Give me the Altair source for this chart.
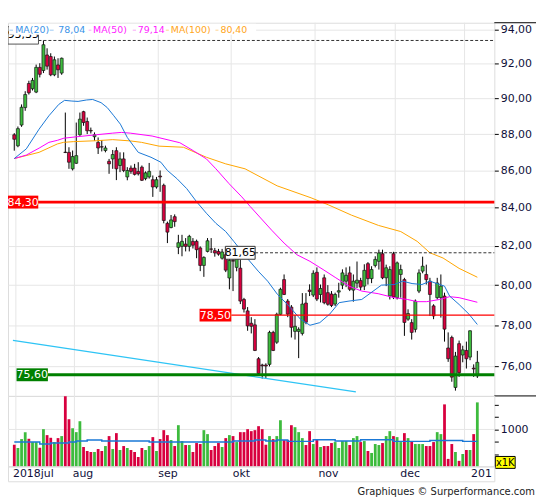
import altair as alt
import pandas as pd

# ---------------- data ----------------
opens = [87.96, 87.35, 88.50, 89.48, 90.85, 90.55, 90.36, 91.78, 91.60, 92.50,
         92.41, 91.35, 91.92, 91.45, 87.00, 86.99, 86.09, 86.39, 87.96, 89.25,
         88.70, 88.20, 87.85, 87.54, 87.30, 87.09, 86.50, 86.63, 87.08, 86.27,
         86.63, 85.65, 86.13, 86.13, 85.95, 86.18, 85.56, 85.65, 85.50, 85.11,
         85.70, 85.20, 83.18, 82.96, 83.53, 81.93, 81.98, 82.10, 81.98, 82.24,
         82.24, 81.90, 81.00, 81.72, 81.85, 81.76, 81.72, 81.37, 81.55, 80.36,
         81.25, 80.90, 80.86, 79.28, 78.71, 78.10, 78.02, 76.37, 76.07, 76.07,
         76.10, 77.65, 77.17, 78.54, 80.28, 79.20, 78.90, 77.70, 77.70, 77.60,
         79.10, 79.75, 79.50, 80.65, 79.53, 80.37, 79.62, 79.55, 79.05, 79.65,
         80.00, 80.20, 80.62, 79.75, 80.10, 80.23, 79.95, 81.09, 80.33, 81.00,
         81.21, 81.60, 80.37, 79.45, 81.60, 79.37, 80.54, 80.28, 78.30, 78.13,
         77.80, 79.70, 80.71, 80.54, 80.20, 78.96, 79.37, 79.37, 79.45, 76.89,
         77.40, 75.00, 77.10, 76.55, 76.77, 76.45, 75.92, 75.55]
highs = [88.05, 88.42, 89.66, 90.41, 91.01, 91.17, 91.94, 92.02, 93.35, 92.89,
         92.60, 92.41, 92.31, 92.35, 89.20, 87.27, 87.09, 88.64, 89.20, 89.30,
         88.92, 88.36, 88.09, 87.81, 87.67, 87.36, 86.63, 87.12, 87.27, 86.99,
         86.99, 86.18, 86.27, 86.36, 86.45, 86.27, 85.95, 86.41, 85.73, 85.65,
         86.00, 85.29, 83.27, 83.62, 83.65, 82.58, 82.58, 82.41, 82.58, 82.41,
         82.33, 81.98, 81.47, 82.41, 82.41, 81.90, 81.85, 81.85, 81.60, 81.38,
         81.47, 81.65, 81.30, 79.36, 78.90, 78.40, 78.30, 76.45, 76.13, 76.15,
         77.73, 77.73, 78.62, 79.87, 80.54, 79.30, 79.00, 78.50, 77.90, 79.60,
         79.60, 80.04, 80.75, 80.90, 80.03, 80.54, 80.00, 79.70, 79.62, 80.12,
         80.80, 80.90, 80.95, 80.54, 81.20, 80.37, 81.06, 81.17, 80.96, 81.47,
         81.81, 81.81, 81.04, 80.96, 81.70, 81.20, 81.04, 80.37, 78.79, 78.30,
         79.28, 80.80, 81.45, 81.04, 80.37, 79.04, 80.37, 80.54, 79.62, 77.65,
         77.49, 76.70, 77.25, 77.00, 77.20, 77.75, 76.10, 76.75]
lows = [87.08, 87.27, 88.40, 89.30, 90.22, 90.45, 90.30, 91.20, 91.45, 91.65,
        91.27, 91.27, 91.17, 91.35, 86.95, 86.09, 86.00, 86.36, 87.90, 88.46,
        88.00, 88.03, 87.63, 86.90, 87.04, 86.99, 85.82, 86.09, 85.48, 85.91,
        85.91, 85.47, 85.82, 85.73, 85.73, 85.43, 85.47, 85.56, 84.58, 85.02,
        84.85, 83.18, 82.15, 82.92, 83.00, 81.58, 81.47, 81.72, 81.72, 81.87,
        81.37, 80.71, 80.42, 81.67, 81.64, 81.45, 81.50, 81.30, 80.66, 79.79,
        79.70, 80.70, 79.05, 78.63, 77.73, 77.60, 76.74, 75.55, 75.42, 75.42,
        76.00, 76.74, 77.09, 78.50, 79.50, 78.40, 77.40, 77.30, 76.40, 77.50,
        78.05, 79.45, 79.40, 79.20, 79.13, 79.04, 78.97, 78.90, 78.95, 79.37,
        79.80, 79.90, 79.70, 79.17, 79.85, 79.75, 79.75, 80.03, 80.10, 80.90,
        80.79, 80.30, 79.95, 79.28, 79.30, 79.28, 79.37, 77.48, 78.22, 77.30,
        77.65, 79.60, 80.60, 80.03, 78.46, 78.30, 79.28, 78.38, 77.20, 76.22,
        75.27, 74.85, 75.50, 76.20, 75.90, 76.30, 75.50, 75.45]
closes = [87.71, 88.30, 89.50, 90.22, 90.32, 91.03, 91.78, 91.38, 93.10, 91.85,
          91.35, 92.22, 91.64, 92.31, 86.98, 86.45, 86.76, 86.81, 88.83, 88.64,
          88.18, 88.17, 87.96, 87.23, 87.28, 87.23, 86.36, 86.87, 86.09, 86.63,
          86.00, 86.00, 85.95, 85.79, 85.82, 85.47, 85.87, 85.95, 85.11, 85.50,
          85.65, 83.33, 82.72, 83.36, 83.27, 82.17, 82.24, 81.98, 82.50, 82.04,
          81.81, 81.00, 81.41, 82.27, 81.83, 81.64, 81.58, 81.69, 80.76, 81.26,
          81.22, 81.40, 79.20, 78.80, 77.97, 77.95, 76.77, 75.66, 76.03, 76.02,
          77.65, 76.77, 78.54, 79.79, 79.53, 78.55, 77.90, 77.95, 77.80, 79.05,
          78.15, 79.68, 80.60, 79.30, 79.83, 79.12, 79.04, 78.98, 79.53, 79.72,
          80.62, 80.50, 79.79, 80.20, 80.25, 79.90, 80.75, 80.33, 80.79, 81.31,
          81.64, 80.37, 80.88, 80.79, 79.40, 81.13, 80.79, 78.14, 78.58, 77.65,
          79.20, 80.62, 80.96, 80.28, 79.53, 78.46, 80.11, 79.95, 77.81, 76.37,
          75.49, 76.50, 75.70, 76.80, 76.37, 77.73, 75.88, 76.20]
volumes = [426, 355, 584, 861, 594, 494, 494, 360, 1017, 729,
           628, 494, 617, 690, 6400, 1770, 1075, 861, 1585, 375,
           300, 284, 284, 335, 300, 396, 690, 335, 815, 317,
           396, 355, 317, 284, 215, 355, 317, 396, 652, 300,
           584, 962, 729, 553, 396, 1270, 523, 419, 419, 284,
           468, 443, 962, 771, 317, 396, 468, 375, 617, 729,
           690, 494, 861, 861, 1017, 910, 962, 1201, 1017, 426,
           690, 584, 690, 1675, 553, 553, 1269, 1136, 861, 617,
           419, 910, 443, 553, 375, 396, 396, 468, 494, 355,
           523, 523, 419, 617, 690, 494, 523, 300, 269, 443,
           419, 468, 690, 910, 690, 652, 494, 815, 617, 523,
           443, 443, 443, 396, 396, 494, 861, 771, 4062, 193,
           443, 284, 173, 254, 317, 317, 771, 4540]

ma20_days = [0, 3.3, 6.8, 9.5, 12.2, 13.8, 15.8, 17.5, 19.8, 21.5, 23.8, 25.5, 27.3,
             29.1, 31.0, 34.0, 37.5, 40.2, 42.0, 44.6, 47.3, 50.0, 52.7, 55.3, 58.0,
             60.2, 64.2, 66.9, 69.5, 72.2, 75.3, 78.5, 81.1, 83.8, 86.5, 89.1, 91.8,
             95.3, 100.7, 104.2, 106.5, 109.1, 111.8, 114.0, 116.7, 118.0, 119.4,
             122.0, 124.7, 127.0]
ma20_vals = [86.65, 87.18, 88.27, 89.02, 89.66, 89.89, 89.85, 89.83, 89.91, 89.94, 89.76,
             89.48, 89.02, 88.55, 87.81, 86.99, 86.72, 86.45, 86.00, 85.56, 85.02, 84.32,
             83.71, 83.18, 82.75, 82.24, 81.30, 80.71, 80.20, 79.53, 78.96, 78.30, 78.00,
             78.13, 78.55, 79.12, 79.20, 79.28, 80.00, 80.03, 80.20, 80.08, 80.03, 80.20,
             80.03, 79.95, 79.45, 79.03, 78.55, 78.04]
ma50_days = [0, 3.3, 6.8, 9.5, 11.8, 13.6, 17.2, 22.5, 27.0, 29.4, 31.8, 37.8, 45.4,
             49.1, 52.7, 55.3, 58.9, 62.4, 64.7, 70.6, 74.0, 77.5, 81.1, 84.7, 88.2,
             91.8, 95.3, 99.8, 104.2, 107.8, 110.5, 113.1, 116.7, 119.4, 122.0, 127.0]
ma50_vals = [86.65, 86.84, 87.22, 87.54, 87.65, 87.77, 87.85, 87.96, 88.05, 88.09, 88.05,
             87.89, 87.52, 87.08, 86.63, 86.09, 85.29, 84.58, 84.07, 82.82, 82.15, 81.55,
             81.21, 80.79, 80.37, 79.95, 79.70, 79.57, 79.37, 79.28, 79.17, 79.17, 79.28,
             79.42, 79.37, 79.14]
ma100_days = [0, 6.8, 11.8, 13.5, 16.3, 22.5, 27.0, 31.8, 34.9, 39.7, 46.4, 52.7, 58.0,
              63.3, 72.1, 81.4, 86.1, 92.5, 99.9, 106.0, 110.5, 114.0, 117.6, 122.0, 127.0]
ma100_vals = [86.65, 86.99, 87.45, 87.54, 87.58, 87.63, 87.69, 87.62, 87.54, 87.33, 87.27,
              86.72, 86.36, 86.09, 85.17, 84.53, 84.16, 83.61, 83.07, 82.75, 82.24, 81.65,
              81.38, 80.85, 80.40]
ma_last = ["78,04", "79,14", "80,40"]

vol_ma_days = [0, 7, 10, 15, 17, 20, 24, 37, 60, 66, 69, 72, 75, 82, 88, 95, 104, 114, 123, 127]
vol_ma_vals = [494, 443, 468, 494, 523, 553, 523, 494, 523, 553, 523, 553, 514, 562, 523,
               562, 514, 543, 514, 514]

trend_days = [-0.36, 93.7]
trend_vals = [77.26, 74.79]

month_days = [0.44, 16.5, 39.5, 59.5, 82.5, 104.5, 123.5]
month_labels = ["2018jul", "aug", "sep", "okt", "nov", "dec", "201"]
price_ticks = [76, 78, 80, 82, 84, 86, 88, 90, 92, 94]
vol_ticks = [250, 500, 1000, 2000, 4000]
vol_floor = 127

level_major_red = [84.30]
level_minor_red = [78.50]
level_support = [75.60]
level_top = [93.35]
level_recent = [81.65]

# ---------------- styling ----------------
FONT = "DejaVu Sans"
GREEN = "#3dbb3d"
RED = "#d8003f"
AXIS_TXT = "#10103a"
GRID = "#e6e6e6"
W, H_MAIN, H_VOL, H_LBL = 490, 376, 71, 15

xscale = alt.Scale(domain=[-0.36, 130.3], nice=False, zero=False)
yscale = alt.Scale(type="log", domain=[74.6, 94.4], nice=False, zero=False)
vscale = alt.Scale(type="log", domain=[vol_floor, 6515], nice=False, zero=False)

y_axis = alt.Axis(orient="right", values=price_ticks,
                  labelExpr="replace(format(datum.value, '.2f'), '.', ',')",
                  grid=True, gridColor=GRID, tickSize=4, tickColor="#000000",
                  domain=False, labelFont=FONT, labelFontSize=11, labelColor=AXIS_TXT,
                  labelPadding=2, title=None)
v_axis = alt.Axis(orient="right", values=vol_ticks,
                  labelExpr="datum.value == 1000 ? '1000' : ''",
                  grid=False, tickSize=4, tickColor="#000000", domain=False,
                  labelFont=FONT, labelFontSize=11, labelColor=AXIS_TXT,
                  labelPadding=2, title=None)

df = pd.DataFrame({"i": list(range(len(opens))), "open": opens, "high": highs,
                   "low": lows, "close": closes, "vol": volumes})
df["dir"] = ["up" if c >= o else "down" for o, c in zip(opens, closes)]
df["base"] = vol_floor
dir_color = alt.Color("dir:N", scale=alt.Scale(domain=["up", "down"], range=[GREEN, RED]),
                      legend=None)

X = alt.X("i:Q", scale=xscale, axis=None)
one = pd.DataFrame({"k": [0]})


def xq(field):
    return alt.X(field, scale=xscale, axis=None)


def yq(field):
    return alt.Y(field, scale=yscale, axis=y_axis)


def box(x0, x1, y0, y1, fill, label, tcolor, stroke=None, ty=None, fs=11):
    d = pd.DataFrame({"t": [label]})
    kw = dict(fill=fill)
    if stroke:
        kw.update(stroke=stroke, strokeWidth=1)
    r = alt.Chart(d).mark_rect(**kw).encode(
        x=alt.value(x0), x2=alt.value(x1), y=alt.value(y0), y2=alt.value(y1))
    t = alt.Chart(d).mark_text(font=FONT, fontSize=fs, color=tcolor, align="center",
                               baseline="middle").encode(
        x=alt.value((x0 + x1) / 2),
        y=alt.value(ty if ty is not None else (y0 + y1) / 2 + 0.5), text="t:N")
    return [r, t]


# ---------------- main price panel ----------------
vgrid = alt.Chart(pd.DataFrame({"g": month_days})).mark_rule(
    color=GRID, strokeWidth=1).encode(x=xq("g:Q"))

wicks = alt.Chart(df).mark_rule(color="#000000", strokeWidth=1).encode(
    x=X, y=yq("low:Q"), y2="high:Q")
bodies = alt.Chart(df).mark_bar(size=3, stroke="#151515", strokeWidth=0.7).encode(
    x=X, y=yq("open:Q"), y2="close:Q", color=dir_color)


def line(days, vals, color, width=1):
    return alt.Chart(pd.DataFrame({"d": days, "v": vals})).mark_line(
        color=color, strokeWidth=width).encode(x=xq("d:Q"), y=yq("v:Q"))


trend = line(trend_days, trend_vals, "#2ec4f5", 1.4)
ma100 = line(ma100_days, ma100_vals, "#ffa500")
ma50 = line(ma50_days, ma50_vals, "#ff00ff")
ma20 = line(ma20_days, ma20_vals, "#1a78d6")

lv_major = alt.Chart(pd.DataFrame({"p": level_major_red})).mark_rule(
    color="#ff0000", strokeWidth=3).encode(y=yq("p:Q"))
lv_minor = alt.Chart(pd.DataFrame({"p": level_minor_red})).mark_rule(
    color="#ff0000", strokeWidth=1.2).encode(y=yq("p:Q"), x=alt.value(225), x2=alt.value(W))
lv_support = alt.Chart(pd.DataFrame({"p": level_support})).mark_rule(
    color="#008000", strokeWidth=3).encode(y=yq("p:Q"), x=alt.value(40), x2=alt.value(W))
lv_top = alt.Chart(pd.DataFrame({"p": level_top})).mark_rule(
    color="#333333", strokeWidth=1, strokeDash=[3, 2]).encode(
    y=yq("p:Q"), x=alt.value(30.7), x2=alt.value(W))
lv_recent = alt.Chart(pd.DataFrame({"p": level_recent})).mark_rule(
    color="#333333", strokeWidth=1, strokeDash=[3, 2]).encode(
    y=yq("p:Q"), x=alt.value(249), x2=alt.value(W))

boxes = []
boxes += box(0, 30.7, 4, 21.5, "#ffffff", "93,35", "#000000", stroke="#555555", ty=12)
boxes += box(0, 30.5, 174.2, 187.2, "#ff0000", "84,30", "#ffffff")
boxes += box(193, 225, 288.1, 301.1, "#ff0000", "78,50", "#ffffff")
boxes += box(8.6, 40.2, 348.2, 361.2, "#008000", "75,60", "#ffffff")
boxes += box(219, 249, 225.3, 238.3, "#ffffff", "81,65", "#000000", stroke="#333333")

band = alt.Chart(one).mark_rect(fill="#ffffff").encode(
    x=alt.value(1), x2=alt.value(250), y=alt.value(1), y2=alt.value(12))

legend_items = [(7.3, "MA(20)", "#3a93e8"), (50.7, ma_last[0], "#3a93e8"),
                (85.7, "MA(50)", "#ff22ff"), (130.7, ma_last[1], "#ff22ff"),
                (164, "MA(100)", "#ffa520"), (214, ma_last[2], "#ffa520")]
legend_layers = []
for lx, txt, col in legend_items:
    legend_layers.append(
        alt.Chart(pd.DataFrame({"t": [txt]})).mark_text(
            font=FONT, fontSize=9.5, color=col, align="left", baseline="middle").encode(
            x=alt.value(lx), y=alt.value(7), text="t:N"))
for a, b, col in [(1.5, 5, "#9ccaf5"), (42, 46, "#9ccaf5"), (81.3, 84, "#f7a6f7"),
                  (125.7, 129, "#f7a6f7"), (159, 162, "#ffd390"), (209, 212, "#ffd390")]:
    legend_layers.append(alt.Chart(one).mark_rule(color=col, strokeWidth=1).encode(
        x=alt.value(a), x2=alt.value(b), y=alt.value(7.5)))

ext_lines = [alt.Chart(one).mark_rule(color="#000000", strokeWidth=1).encode(
    x=alt.value(W), x2=alt.value(532), y=alt.value(yy)) for yy in (0, H_MAIN)]

main = alt.layer(vgrid, wicks, bodies, trend, ma100, ma50, ma20,
                 lv_major, lv_minor, lv_support, lv_top, lv_recent,
                 *boxes, band, *legend_layers, *ext_lines).properties(
    width=W, height=H_MAIN)

# ---------------- volume panel ----------------
vgrid2 = alt.Chart(pd.DataFrame({"g": month_days})).mark_rule(
    color=GRID, strokeWidth=1).encode(x=xq("g:Q"))
hgrid2 = alt.Chart(pd.DataFrame({"v": [1000]})).mark_rule(
    color=GRID, strokeWidth=1).encode(y=alt.Y("v:Q", scale=vscale, axis=v_axis))
vbars = alt.Chart(df).mark_bar(size=2.8).encode(
    x=X, y=alt.Y("vol:Q", scale=vscale, axis=v_axis, stack=None), y2="base:Q",
    color=dir_color)
vma = alt.Chart(pd.DataFrame({"d": vol_ma_days, "v": vol_ma_vals})).mark_line(
    interpolate="step-after", color="#1a78d6", strokeWidth=1.5).encode(
    x=xq("d:Q"), y=alt.Y("v:Q", scale=vscale, axis=v_axis))
kbox = box(491, 511, 61, 73, "#ffff00", "x1K", "#000000", stroke="#000000", fs=10)

vol = alt.layer(vgrid2, hgrid2, vbars, vma, *kbox).properties(width=W, height=H_VOL)

# ---------------- month label row ----------------
months = alt.Chart(pd.DataFrame({"g": month_days, "lab": month_labels})).mark_text(
    font=FONT, fontSize=11, color=AXIS_TXT, align="left", baseline="middle", dx=2).encode(
    x=xq("g:Q"), y=alt.value(7.5), text="lab:N")
credit = alt.Chart(pd.DataFrame({"t": ["Graphiques \u00a9 Surperformance.com"]})).mark_text(
    font=FONT, fontSize=10, color="#222222", align="right", baseline="middle").encode(
    x=alt.value(531), y=alt.value(25.5), text="t:N")
lbl = alt.layer(months, credit).properties(width=W, height=H_LBL)

chart = alt.vconcat(main, vol, lbl, spacing=0, bounds="flush").properties(
    padding={"left": -2, "top": 12, "right": 0, "bottom": 0}
).configure_view(stroke="#000000", strokeWidth=1).configure(background="#ffffff")

chart.save("out.html", embed_options={"renderer": "svg", "actions": False})
